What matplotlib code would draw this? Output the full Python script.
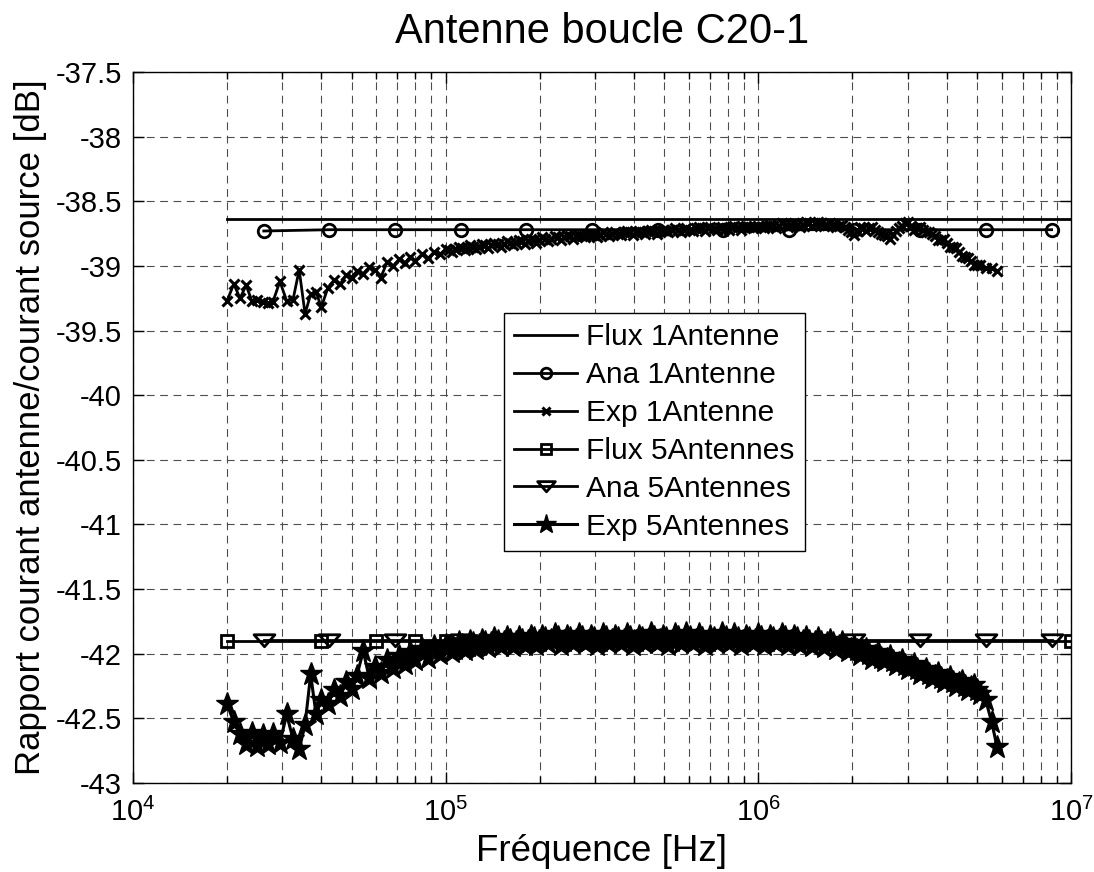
import numpy as np
import matplotlib
matplotlib.use("Agg")
import matplotlib.pyplot as plt
from matplotlib.path import Path
from matplotlib.ticker import LogLocator, MultipleLocator, NullFormatter, FuncFormatter

plt.rcParams['font.family'] = ['Liberation Sans', 'DejaVu Sans']
plt.rcParams['mathtext.fontset'] = 'custom'
plt.rcParams['mathtext.rm'] = 'Liberation Sans'
plt.rcParams['mathtext.it'] = 'Liberation Sans:italic'

# ---------------- data ----------------
title = "Antenne boucle C20-1"
xlabel = "Fréquence [Hz]"
ylabel = "Rapport courant antenne/courant source [dB]"
labels = ["Flux 1Antenne", "Ana 1Antenne", "Exp 1Antenne",
          "Flux 5Antennes", "Ana 5Antennes", "Exp 5Antennes"]

flux1_freq_khz = [20, 10000]
flux1_db = [-38.64, -38.64]

ana_freq_khz = [26.2, 42.5, 69.0, 112, 181, 294, 477, 773, 1250, 2030, 3300, 5350, 8670]
ana1_db = [-38.73, -38.72, -38.72, -38.72, -38.72, -38.72, -38.72, -38.72,
           -38.72, -38.72, -38.72, -38.72, -38.72]
ana5_db = [-41.89, -41.89, -41.89, -41.89, -41.89, -41.89, -41.89, -41.89,
           -41.89, -41.89, -41.89, -41.89, -41.89]

flux5_freq_khz = [20, 40, 60, 80, 100, 120, 10000]
flux5_db = [-41.90, -41.90, -41.90, -41.90, -41.90, -41.90, -41.90]

# measured sweep (main points)
exp_freq_khz = [20, 21, 22, 23, 24, 25, 26, 27, 28, 29.5, 31, 32.5, 34, 35.5, 37, 38.5,
                40, 42, 44, 46, 48, 50, 52, 54.5, 57, 59.5, 62, 65, 68, 71, 74, 77, 80,
                84, 88, 92, 96, 100, 105, 110, 115, 120, 125, 131, 137, 143, 150, 157,
                164, 171, 179, 187, 195, 204, 213, 223, 233, 244, 255, 266, 278, 291,
                304, 318, 332, 347, 363, 379, 396, 414, 433, 452, 473, 494, 516, 540,
                564, 589, 616, 644, 673, 703, 735, 768, 803, 839, 877, 916, 958, 1000,
                1045, 1092, 1141, 1193, 1247, 1303, 1362, 1423, 1487, 1554, 1624, 1697,
                1774, 1854, 1937, 2025, 2116, 2211, 2311, 2415, 2524, 2637, 2756, 2880,
                3010, 3146, 3287, 3435, 3590, 3752, 3921, 4097, 4282, 4475, 4676, 4887,
                5107, 5337, 5577, 5800]

exp1_db = [-39.27, -39.14, -39.25, -39.15, -39.27, -39.26, -39.28, -39.29, -39.28, -39.12,
           -39.27, -39.26, -39.03, -39.37, -39.22, -39.20, -39.32, -39.17, -39.11, -39.14,
           -39.07, -39.09, -39.04, -39.06, -39.01, -39.03, -39.09, -38.97, -39.00, -38.95,
           -38.98, -38.93, -38.96, -38.91, -38.94, -38.89, -38.91, -38.87, -38.89, -38.85,
           -38.88, -38.84, -38.87, -38.83, -38.86, -38.82, -38.85, -38.81, -38.84, -38.80,
           -38.83, -38.79, -38.82, -38.78, -38.81, -38.77, -38.80, -38.76, -38.79, -38.76,
           -38.78, -38.75, -38.78, -38.74, -38.77, -38.74, -38.76, -38.73, -38.76, -38.73,
           -38.75, -38.72, -38.75, -38.72, -38.74, -38.71, -38.74, -38.71, -38.73, -38.70,
           -38.73, -38.70, -38.72, -38.70, -38.72, -38.69, -38.72, -38.69, -38.71, -38.69,
           -38.71, -38.68, -38.71, -38.67, -38.70, -38.67, -38.70, -38.66, -38.69, -38.66,
           -38.69, -38.67, -38.70, -38.68, -38.72, -38.76, -38.70, -38.73, -38.70, -38.74,
           -38.76, -38.79, -38.73, -38.69, -38.66, -38.72, -38.70, -38.74, -38.75, -38.80,
           -38.79, -38.85, -38.86, -38.92, -38.94, -38.99, -38.99, -39.02, -39.02, -39.04]

exp5_db = [-42.39, -42.53, -42.62, -42.70, -42.61, -42.71, -42.63, -42.70, -42.62, -42.69,
           -42.47, -42.66, -42.74, -42.55, -42.16, -42.47, -42.36, -42.39, -42.28, -42.33,
           -42.22, -42.27, -42.17, -41.98, -42.19, -42.10, -42.15, -42.05, -42.11, -42.02,
           -42.08, -41.99, -42.05, -41.96, -42.03, -41.94, -42.00, -41.93, -41.99, -41.91,
           -41.97, -41.90, -41.96, -41.89, -41.95, -41.88, -41.94, -41.87, -41.94, -41.87,
           -41.93, -41.86, -41.93, -41.86, -41.92, -41.85, -41.93, -41.86, -41.92, -41.85,
           -41.92, -41.86, -41.93, -41.85, -41.92, -41.86, -41.92, -41.85, -41.93, -41.86,
           -41.92, -41.84, -41.92, -41.86, -41.93, -41.85, -41.92, -41.84, -41.92, -41.85,
           -41.93, -41.86, -41.92, -41.84, -41.92, -41.85, -41.93, -41.86, -41.92, -41.85,
           -41.93, -41.86, -41.92, -41.85, -41.93, -41.86, -41.93, -41.87, -41.94, -41.88,
           -41.95, -41.89, -41.96, -41.91, -41.98, -41.94, -42.01, -41.96, -42.04, -41.99,
           -42.06, -42.02, -42.09, -42.05, -42.12, -42.08, -42.16, -42.12, -42.19, -42.15,
           -42.22, -42.18, -42.25, -42.21, -42.28, -42.24, -42.31, -42.36, -42.53, -42.72]

# measured sweep (intermediate points, 100 kHz - 5.1 MHz)
exp_mid_freq_khz = [102.5, 107.5, 112.5, 117.5, 122.5, 128, 134, 140, 146.5, 153.5,
                    160.5, 167.5, 175, 183, 191, 199.5, 208.5, 218, 228, 238.5,
                    249.5, 260.5, 272, 284.5, 297.5, 311, 325, 339.5, 355, 371,
                    387.5, 405, 423.5, 442.5, 462.5, 483.5, 505, 528, 552, 576.5,
                    602.5, 630, 658.5, 688, 719, 751.5, 785.5, 821, 858, 896.5,
                    937, 979, 1022, 1068, 1116, 1167, 1220, 1275, 1332, 1392,
                    1455, 1520, 1589, 1660, 1735, 1814, 1895, 1981, 2070, 2163,
                    2261, 2363, 2469, 2580, 2696, 2818, 2945, 3078, 3216, 3361,
                    3512, 3671, 3836, 4009, 4189, 4378, 4575, 4781, 4997]

exp1_mid_db = [-38.88, -38.87, -38.86, -38.86, -38.85, -38.85, -38.84, -38.84, -38.83, -38.83,
               -38.82, -38.82, -38.81, -38.81, -38.80, -38.80, -38.79, -38.79, -38.78, -38.78,
               -38.77, -38.77, -38.77, -38.76, -38.76, -38.76, -38.75, -38.75, -38.75, -38.74,
               -38.74, -38.74, -38.74, -38.73, -38.73, -38.73, -38.73, -38.72, -38.72, -38.72,
               -38.72, -38.71, -38.71, -38.71, -38.71, -38.71, -38.71, -38.70, -38.70, -38.70,
               -38.70, -38.70, -38.70, -38.69, -38.69, -38.69, -38.68, -38.68, -38.68, -38.68,
               -38.67, -38.67, -38.67, -38.68, -38.68, -38.69, -38.70, -38.74, -38.73, -38.71,
               -38.71, -38.72, -38.75, -38.77, -38.76, -38.71, -38.67, -38.69, -38.71, -38.72,
               -38.74, -38.77, -38.80, -38.82, -38.85, -38.89, -38.93, -38.96, -38.99]

exp5_mid_db = [-41.95, -41.96, -41.93, -41.94, -41.92, -41.93, -41.91, -41.92, -41.90, -41.91,
               -41.89, -41.91, -41.89, -41.90, -41.88, -41.90, -41.88, -41.89, -41.87, -41.90,
               -41.88, -41.89, -41.87, -41.90, -41.88, -41.90, -41.87, -41.89, -41.88, -41.89,
               -41.87, -41.90, -41.88, -41.89, -41.87, -41.89, -41.88, -41.90, -41.87, -41.89,
               -41.87, -41.89, -41.88, -41.90, -41.88, -41.89, -41.87, -41.89, -41.88, -41.90,
               -41.88, -41.89, -41.87, -41.90, -41.88, -41.89, -41.87, -41.90, -41.88, -41.90,
               -41.90, -41.91, -41.91, -41.92, -41.92, -41.94, -41.94, -41.96, -41.97, -41.99,
               -42.00, -42.02, -42.03, -42.04, -42.06, -42.07, -42.09, -42.10, -42.12, -42.14,
               -42.16, -42.17, -42.19, -42.20, -42.22, -42.23, -42.25, -42.26, -42.28]

ylim = (-43, -37.5)
xlim = (1e4, 1e7)

# ---------------- plot ----------------
def khz(v):
    return np.asarray(v, dtype=float) * 1e3

def merged(f_main, y_main, f_mid, y_mid):
    f = np.concatenate([khz(f_main), khz(f_mid)])
    y = np.concatenate([np.asarray(y_main, float), np.asarray(y_mid, float)])
    o = np.argsort(f, kind='stable')
    return f[o], y[o]

exp1_f, exp1_y = merged(exp_freq_khz, exp1_db, exp_mid_freq_khz, exp1_mid_db)
exp5_f, exp5_y = merged(exp_freq_khz, exp5_db, exp_mid_freq_khz, exp5_mid_db)

fig = plt.figure(figsize=(10.94, 8.72), dpi=100)
ax = fig.add_axes([133 / 1094, 1 - 783 / 872, 938 / 1094, 711 / 872])

tri = Path([(-1.0, 0.55), (1.0, 0.55), (0.0, -0.6), (-1.0, 0.55)],
           [Path.MOVETO, Path.LINETO, Path.LINETO, Path.CLOSEPOLY])

lw = 2.0
ax.plot(khz(flux1_freq_khz), flux1_db, '-', color='k', lw=lw, label=labels[0])
ax.plot(khz(ana_freq_khz), ana1_db, '-', color='k', lw=lw, marker='o', ms=9,
        mfc='none', mec='k', mew=2, label=labels[1])
ax.plot(exp1_f, exp1_y, '-', color='k', lw=2.0, marker='x', ms=7,
        mec='k', mew=2.2, label=labels[2])
ax.plot(khz(flux5_freq_khz), flux5_db, '-', color='k', lw=lw, marker='s', ms=9,
        mfc='none', mec='k', mew=2, label=labels[3])
ax.plot(khz(ana_freq_khz), ana5_db, '-', color='k', lw=lw, marker=tri, ms=15,
        mfc='none', mec='k', mew=2, label=labels[4])
ax.plot(exp5_f, exp5_y, '-', color='k', lw=2.2, marker='*', ms=17,
        mfc='k', mec='k', mew=1, label=labels[5])

ax.set_xscale('log')
ax.set_xlim(*xlim)
ax.set_ylim(*ylim)
ax.yaxis.set_major_locator(MultipleLocator(0.5))
ax.xaxis.set_major_locator(LogLocator(base=10, numticks=10))
ax.xaxis.set_minor_locator(LogLocator(base=10, subs=np.arange(2, 10), numticks=100))
ax.xaxis.set_minor_formatter(NullFormatter())
ax.yaxis.set_major_formatter(FuncFormatter(lambda v, p: ('%g' % v)))

ax.grid(True, which='major', axis='both', color='0.3', lw=0.8, ls=(0, (7, 5)))
ax.grid(True, which='minor', axis='x', color='0.3', lw=0.8, ls=(0, (7, 5)))
ax.set_axisbelow(True)

ax.tick_params(which='both', direction='in', top=True, right=True, width=1,
               labelsize=21)
ax.tick_params(axis='y', pad=8)
ax.tick_params(axis='x', pad=11)
ax.tick_params(which='major', length=8)
ax.tick_params(which='minor', length=5)
for s in ax.spines.values():
    s.set_linewidth(1.0)

ax.set_title(title, fontsize=30, pad=21)
ax.set_xlabel(xlabel, fontsize=26.5, va='top')
ax.xaxis.set_label_coords(0.5, -0.072)
ax.set_ylabel(ylabel, fontsize=25)
ax.yaxis.set_label_coords(-0.092, 0.5)

leg = ax.legend(loc='upper left', bbox_to_anchor=((504 - 133) / 938, 1 - (313 - 72) / 711),
                borderaxespad=0, fontsize=21.5, frameon=True, fancybox=False,
                edgecolor='k', framealpha=1, handlelength=2.1, handletextpad=0.3,
                labelspacing=0.33, borderpad=0.35, markerscale=0.85)
leg.get_frame().set_linewidth(1.0)

fig.savefig('out.png', dpi=100, facecolor='white')
